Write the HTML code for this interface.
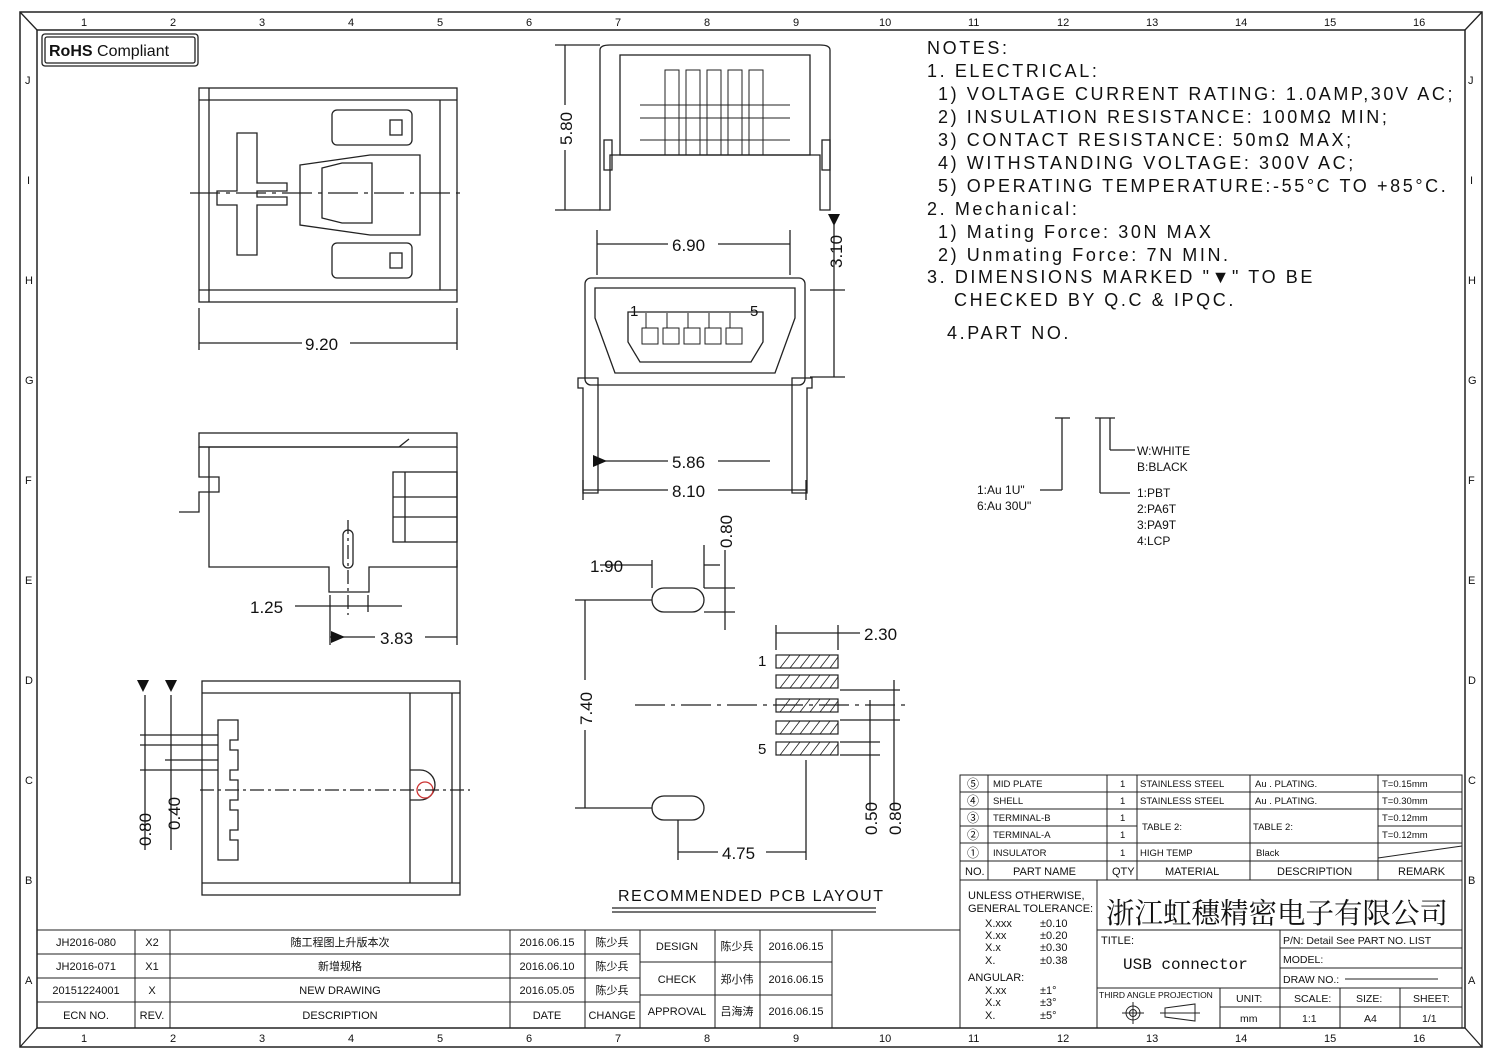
<!DOCTYPE html>
<html><head><meta charset="utf-8"><style>
html,body{margin:0;padding:0;background:#fff}
svg{display:block}
text{font-family:"Liberation Sans","Noto Sans CJK SC",sans-serif;fill:#111}
.n{font-size:18px;letter-spacing:2.6px}
.s{font-size:10px}
.d{font-size:17px}
</style></head><body>
<svg width="1502" height="1059" viewBox="0 0 1502 1059" xmlns="http://www.w3.org/2000/svg" fill="none" stroke="#222" stroke-width="1.3">
<!-- frame -->
<rect x="20" y="12" width="1462" height="1035" stroke-width="1.5"/>
<rect x="37" y="30" width="1428" height="998" stroke-width="1.5"/>
<line x1="20" y1="12" x2="37" y2="30"/><line x1="1482" y1="12" x2="1465" y2="30"/>
<line x1="20" y1="1047" x2="37" y2="1028"/><line x1="1482" y1="1047" x2="1465" y2="1028"/>
<g stroke="none" font-size="11">
<text x="81" y="26">1</text><text x="170" y="26">2</text><text x="259" y="26">3</text><text x="348" y="26">4</text><text x="437" y="26">5</text><text x="526" y="26">6</text><text x="615" y="26">7</text><text x="704" y="26">8</text><text x="793" y="26">9</text><text x="879" y="26">10</text><text x="968" y="26">11</text><text x="1057" y="26">12</text><text x="1146" y="26">13</text><text x="1235" y="26">14</text><text x="1324" y="26">15</text><text x="1413" y="26">16</text>
<text x="81" y="1042">1</text><text x="170" y="1042">2</text><text x="259" y="1042">3</text><text x="348" y="1042">4</text><text x="437" y="1042">5</text><text x="526" y="1042">6</text><text x="615" y="1042">7</text><text x="704" y="1042">8</text><text x="793" y="1042">9</text><text x="879" y="1042">10</text><text x="968" y="1042">11</text><text x="1057" y="1042">12</text><text x="1146" y="1042">13</text><text x="1235" y="1042">14</text><text x="1324" y="1042">15</text><text x="1413" y="1042">16</text>
<text x="25" y="84">J</text><text x="27" y="184">I</text><text x="25" y="284">H</text><text x="25" y="384">G</text><text x="25" y="484">F</text><text x="25" y="584">E</text><text x="25" y="684">D</text><text x="25" y="784">C</text><text x="25" y="884">B</text><text x="25" y="984">A</text>
<text x="1468" y="84">J</text><text x="1470" y="184">I</text><text x="1468" y="284">H</text><text x="1468" y="384">G</text><text x="1468" y="484">F</text><text x="1468" y="584">E</text><text x="1468" y="684">D</text><text x="1468" y="784">C</text><text x="1468" y="884">B</text><text x="1468" y="984">A</text>
</g>
<!-- RoHS -->
<rect x="42" y="34" width="156" height="32" rx="3"/><rect x="45" y="37" width="150" height="26" rx="2"/>
<text x="49" y="56" stroke="none" font-size="16"><tspan font-weight="bold">RoHS</tspan> Compliant</text>

<!-- View 1 top-left -->
<rect x="199" y="88" width="258" height="214"/>
<line x1="209" y1="88" x2="209" y2="302"/><line x1="199" y1="100" x2="457" y2="100"/><line x1="199" y1="290" x2="457" y2="290"/>
<line x1="440" y1="100" x2="440" y2="290"/>
<path d="M237 133 h20 v50 h30 v8 h-30 v6 h30 v8 h-30 v50 h-20 v-50 h-20 v-14 h20 z"/>
<path d="M300 165 l70 -10 h50 v80 h-50 l-70 -10 z"/><path d="M322 168 l20 -5 h30 v60 h-30 l-20 -5 z"/>
<rect x="332" y="110" width="80" height="35" rx="5"/><rect x="332" y="243" width="80" height="35" rx="5"/>
<rect x="390" y="120" width="12" height="15"/><rect x="390" y="253" width="12" height="15"/>
<line x1="190" y1="193" x2="465" y2="193" stroke-dasharray="30 6 4 6"/>
<line x1="199" y1="308" x2="199" y2="350"/><line x1="457" y1="308" x2="457" y2="350"/>
<line x1="199" y1="343" x2="302" y2="343"/><line x1="350" y1="343" x2="457" y2="343"/>
<text x="305" y="350" class="d" stroke="none">9.20</text>

<!-- View 2 top middle -->
<path d="M600 50 q0 -5 10 -5 h210 q10 0 10 5 v160 h-10 v-55 h-210 v55 h-10 z"/>
<rect x="620" y="55" width="190" height="100"/>
<g stroke-width="1">
<rect x="665" y="70" width="14" height="85"/><rect x="686" y="70" width="14" height="85"/><rect x="707" y="70" width="14" height="85"/><rect x="728" y="70" width="14" height="85"/><rect x="749" y="70" width="14" height="85"/>
<line x1="640" y1="105" x2="790" y2="105"/><line x1="640" y1="118" x2="790" y2="118"/>
<line x1="640" y1="140" x2="790" y2="140"/>
</g>
<rect x="604" y="140" width="8" height="30"/><rect x="822" y="140" width="8" height="30"/>
<line x1="555" y1="45" x2="600" y2="45"/><line x1="555" y1="210" x2="600" y2="210"/>
<line x1="565" y1="45" x2="565" y2="105"/><line x1="565" y1="150" x2="565" y2="210"/>
<text x="572" y="145" class="d" stroke="none" transform="rotate(-90 572 145)">5.80</text>

<!-- View 3 front -->
<rect x="585" y="278" width="220" height="107" rx="6"/>
<path d="M595 288 h200 v30 l-20 55 h-160 l-20 -55 z"/>
<path d="M628 312 h135 v30 l-12 20 h-111 l-12 -20 z"/>
<g stroke-width="1"><rect x="642" y="328" width="16" height="16"/><rect x="663" y="328" width="16" height="16"/><rect x="684" y="328" width="16" height="16"/><rect x="705" y="328" width="16" height="16"/><rect x="726" y="328" width="16" height="16"/>
<line x1="646" y1="313" x2="646" y2="328"/><line x1="667" y1="313" x2="667" y2="328"/><line x1="688" y1="313" x2="688" y2="328"/><line x1="709" y1="313" x2="709" y2="328"/><line x1="730" y1="313" x2="730" y2="328"/></g>
<text x="630" y="316" stroke="none" font-size="15">1</text><text x="750" y="316" stroke="none" font-size="15">5</text>
<path d="M578 378 h20 v115 h-15 v-105 h-5 z"/><path d="M812 378 h-20 v115 h15 v-105 h5 z"/>
<line x1="597" y1="230" x2="597" y2="275"/><line x1="790" y1="230" x2="790" y2="275"/>
<line x1="597" y1="244" x2="668" y2="244"/><line x1="718" y1="244" x2="790" y2="244"/>
<text x="672" y="251" class="d" stroke="none">6.90</text>
<line x1="810" y1="290" x2="845" y2="290"/><line x1="810" y1="377" x2="845" y2="377"/>
<line x1="834" y1="225" x2="834" y2="377"/>
<text x="842" y="268" class="d" stroke="none" transform="rotate(-90 842 268)">3.10</text>
<path d="M828 214 h12 l-6 12 z" fill="#111" stroke="none"/>
<line x1="595" y1="461" x2="668" y2="461"/><line x1="718" y1="461" x2="770" y2="461"/>
<text x="672" y="468" class="d" stroke="none">5.86</text>
<path d="M593 455 l14 6 l-14 6 z" fill="#111" stroke="none"/>
<line x1="583" y1="490" x2="668" y2="490"/><line x1="718" y1="490" x2="806" y2="490"/>
<line x1="583" y1="480" x2="583" y2="500"/><line x1="806" y1="480" x2="806" y2="500"/>
<text x="672" y="497" class="d" stroke="none">8.10</text>

<!-- View 4 side -->
<rect x="199" y="433" width="258" height="14"/>
<path d="M199 447 h200 l10 -8 M199 447 v30 h20 v15 h-20 v20 h-20" />
<path d="M209 447 v120 h120 v25 h40 v-25 h88 v-120"/>
<rect x="393" y="472" width="64" height="70"/>
<line x1="405" y1="472" x2="405" y2="542"/><line x1="393" y1="497" x2="457" y2="497"/><line x1="393" y1="517" x2="457" y2="517"/>
<rect x="343" y="530" width="10" height="38" rx="5"/>
<line x1="348" y1="520" x2="348" y2="615" stroke-dasharray="14 4 3 4"/>
<line x1="330" y1="595" x2="330" y2="645"/><line x1="368" y1="595" x2="368" y2="612"/><line x1="457" y1="560" x2="457" y2="645"/>
<line x1="295" y1="606" x2="402" y2="606"/>
<text x="250" y="613" class="d" stroke="none">1.25</text>
<line x1="330" y1="637" x2="375" y2="637"/><line x1="425" y1="637" x2="457" y2="637"/>
<path d="M331 631 l14 6 l-14 6 z" fill="#111" stroke="none"/>
<text x="380" y="644" class="d" stroke="none">3.83</text>

<!-- View 5 bottom-left -->
<rect x="202" y="681" width="258" height="214"/>
<line x1="202" y1="693" x2="460" y2="693"/><line x1="202" y1="883" x2="460" y2="883"/>
<line x1="410" y1="693" x2="410" y2="883"/><line x1="452" y1="693" x2="452" y2="883"/>
<path d="M218 720 h20 v20 h-8 v10 h8 v20 h-8 v10 h8 v20 h-8 v10 h8 v20 h-8 v10 h8 v20 h-20 z"/>
<path d="M410 770 h10 a8 8 0 0 1 0 30 h-10"/><circle cx="425" cy="790" r="8" stroke="#c33"/>
<line x1="200" y1="790" x2="470" y2="790" stroke-dasharray="14 4 3 4"/>
<line x1="140" y1="735" x2="218" y2="735"/><line x1="140" y1="745" x2="218" y2="745"/><line x1="165" y1="760" x2="218" y2="760"/><line x1="140" y1="770" x2="218" y2="770"/>
<line x1="145" y1="695" x2="145" y2="850"/><line x1="171" y1="695" x2="171" y2="850"/>
<path d="M137 680 h12 l-6 12 z M165 680 h12 l-6 12 z" fill="#111" stroke="none"/>
<text x="151" y="846" class="d" stroke="none" transform="rotate(-90 151 846)">0.80</text>
<text x="180" y="830" class="d" stroke="none" transform="rotate(-90 180 830)">0.40</text>

<!-- PCB layout -->
<rect x="652" y="588" width="52" height="24" rx="12"/><rect x="652" y="796" width="52" height="24" rx="12"/>
<line x1="652" y1="560" x2="652" y2="588"/><line x1="704" y1="545" x2="704" y2="588"/>
<line x1="600" y1="565" x2="652" y2="565"/><line x1="704" y1="565" x2="720" y2="565"/>
<text x="590" y="572" class="d" stroke="none">1.90</text>
<line x1="704" y1="588" x2="735" y2="588"/><line x1="704" y1="612" x2="735" y2="612"/>
<line x1="725" y1="550" x2="725" y2="630"/>
<text x="732" y="548" class="d" stroke="none" transform="rotate(-90 732 548)">0.80</text>
<line x1="575" y1="600" x2="652" y2="600"/><line x1="575" y1="808" x2="652" y2="808"/>
<line x1="585" y1="600" x2="585" y2="680"/><line x1="585" y1="730" x2="585" y2="808"/>
<text x="592" y="725" class="d" stroke="none" transform="rotate(-90 592 725)">7.40</text>
<line x1="635" y1="705" x2="910" y2="705" stroke-dasharray="30 6 4 6"/>
<g stroke-width="1.2">
<rect x="776" y="655" width="62" height="13"/><rect x="776" y="675" width="62" height="13"/><rect x="776" y="699" width="62" height="13"/><rect x="776" y="721" width="62" height="13"/><rect x="776" y="742" width="62" height="13"/>
</g>
<g stroke-width="0.8">
<path d="M780 668 l10 -13 M790 668 l10 -13 M800 668 l10 -13 M810 668 l10 -13 M820 668 l10 -13 M830 668 l8 -11 M780 688 l10 -13 M790 688 l10 -13 M800 688 l10 -13 M810 688 l10 -13 M820 688 l10 -13 M830 688 l8 -11 M780 712 l10 -13 M790 712 l10 -13 M800 712 l10 -13 M810 712 l10 -13 M820 712 l10 -13 M830 712 l8 -11 M780 734 l10 -13 M790 734 l10 -13 M800 734 l10 -13 M810 734 l10 -13 M820 734 l10 -13 M830 734 l8 -11 M780 755 l10 -13 M790 755 l10 -13 M800 755 l10 -13 M810 755 l10 -13 M820 755 l10 -13 M830 755 l8 -11"/>
</g>
<text x="758" y="666" stroke="none" font-size="15">1</text><text x="758" y="754" stroke="none" font-size="15">5</text>
<line x1="776" y1="625" x2="776" y2="650"/><line x1="838" y1="625" x2="838" y2="650"/>
<line x1="776" y1="633" x2="860" y2="633"/><text x="864" y="640" class="d" stroke="none">2.30</text>
<line x1="840" y1="690" x2="900" y2="690"/><line x1="840" y1="720" x2="900" y2="720"/><line x1="840" y1="742" x2="880" y2="742"/><line x1="840" y1="755" x2="880" y2="755"/>
<line x1="870" y1="700" x2="870" y2="810"/><line x1="894" y1="680" x2="894" y2="810"/>
<text x="877" y="835" class="d" stroke="none" transform="rotate(-90 877 835)">0.50</text>
<text x="901" y="835" class="d" stroke="none" transform="rotate(-90 901 835)">0.80</text>
<line x1="678" y1="820" x2="678" y2="860"/><line x1="806" y1="760" x2="806" y2="860"/>
<line x1="678" y1="852" x2="718" y2="852"/><line x1="766" y1="852" x2="806" y2="852"/>
<text x="722" y="859" class="d" stroke="none">4.75</text>
<text x="618" y="901" stroke="none" font-size="16" letter-spacing="1.5">RECOMMENDED PCB LAYOUT</text>
<line x1="612" y1="908" x2="876" y2="908"/><line x1="612" y1="912" x2="876" y2="912"/>

<!-- Notes -->
<g stroke="none">
<text x="927" y="54" class="n">NOTES:</text>
<text x="927" y="77" class="n">1. ELECTRICAL:</text>
<text x="938" y="100" class="n">1) VOLTAGE CURRENT RATING: 1.0AMP,30V AC;</text>
<text x="938" y="123" class="n">2) INSULATION RESISTANCE: 100MΩ MIN;</text>
<text x="938" y="146" class="n">3) CONTACT RESISTANCE: 50mΩ MAX;</text>
<text x="938" y="169" class="n">4) WITHSTANDING VOLTAGE: 300V AC;</text>
<text x="938" y="192" class="n">5) OPERATING TEMPERATURE:-55°C TO +85°C.</text>
<text x="927" y="215" class="n">2. Mechanical:</text>
<text x="938" y="238" class="n">1) Mating Force: 30N MAX</text>
<text x="938" y="261" class="n">2) Unmating Force: 7N MIN.</text>
<text x="927" y="283" class="n">3. DIMENSIONS MARKED "▼" TO BE</text>
<text x="954" y="306" class="n">CHECKED BY Q.C &amp; IPQC.</text>
<text x="947" y="339" class="n">4.PART NO.</text>
</g>
<!-- part no code -->
<line x1="1055" y1="418" x2="1070" y2="418"/><line x1="1062" y1="418" x2="1062" y2="490"/><line x1="1062" y1="490" x2="1040" y2="490"/>
<line x1="1095" y1="418" x2="1115" y2="418"/><line x1="1100" y1="418" x2="1100" y2="493"/><line x1="1100" y1="493" x2="1130" y2="493"/>
<line x1="1110" y1="418" x2="1110" y2="450"/><line x1="1110" y1="450" x2="1135" y2="450"/>
<g stroke="none" font-size="12">
<text x="1137" y="455">W:WHITE</text><text x="1137" y="471">B:BLACK</text>
<text x="977" y="494">1:Au 1U"</text><text x="977" y="510">6:Au 30U"</text>
<text x="1137" y="497">1:PBT</text><text x="1137" y="513">2:PA6T</text><text x="1137" y="529">3:PA9T</text><text x="1137" y="545">4:LCP</text>
</g>

<!-- revision table -->
<g stroke-width="1">
<line x1="37" y1="930" x2="960" y2="930"/>
<line x1="37" y1="954" x2="640" y2="954"/><line x1="37" y1="978" x2="640" y2="978"/><line x1="37" y1="1002" x2="640" y2="1002"/>
<line x1="640" y1="962" x2="832" y2="962"/><line x1="640" y1="995" x2="832" y2="995"/>
<line x1="135" y1="930" x2="135" y2="1028"/><line x1="170" y1="930" x2="170" y2="1028"/><line x1="510" y1="930" x2="510" y2="1028"/><line x1="585" y1="930" x2="585" y2="1028"/><line x1="640" y1="930" x2="640" y2="1028"/><line x1="715" y1="930" x2="715" y2="1028"/><line x1="760" y1="930" x2="760" y2="1028"/><line x1="832" y1="930" x2="832" y2="1028"/>
</g>
<g stroke="none" font-size="11" text-anchor="middle">
<text x="86" y="946">JH2016-080</text><text x="152" y="946">X2</text><text x="340" y="946">随工程图上升版本次</text><text x="547" y="946">2016.06.15</text><text x="612" y="946">陈少兵</text>
<text x="86" y="970">JH2016-071</text><text x="152" y="970">X1</text><text x="340" y="970">新增规格</text><text x="547" y="970">2016.06.10</text><text x="612" y="970">陈少兵</text>
<text x="86" y="994">20151224001</text><text x="152" y="994">X</text><text x="340" y="994">NEW DRAWING</text><text x="547" y="994">2016.05.05</text><text x="612" y="994">陈少兵</text>
<text x="86" y="1019">ECN NO.</text><text x="152" y="1019">REV.</text><text x="340" y="1019">DESCRIPTION</text><text x="547" y="1019">DATE</text><text x="612" y="1019">CHANGE</text>
<text x="677" y="950">DESIGN</text><text x="737" y="950">陈少兵</text><text x="796" y="950">2016.06.15</text>
<text x="677" y="983">CHECK</text><text x="737" y="983">郑小伟</text><text x="796" y="983">2016.06.15</text>
<text x="677" y="1015">APPROVAL</text><text x="737" y="1015">吕海涛</text><text x="796" y="1015">2016.06.15</text>
</g>

<!-- parts table -->
<g stroke-width="1">
<rect x="960" y="775" width="502" height="253"/>
<line x1="960" y1="792" x2="1462" y2="792"/><line x1="960" y1="809" x2="1462" y2="809"/><line x1="960" y1="826" x2="1137" y2="826"/><line x1="1378" y1="826" x2="1462" y2="826"/><line x1="960" y1="843" x2="1462" y2="843"/><line x1="960" y1="861" x2="1462" y2="861"/><line x1="960" y1="880" x2="1462" y2="880"/>
<line x1="988" y1="775" x2="988" y2="880"/><line x1="1107" y1="775" x2="1107" y2="880"/><line x1="1137" y1="775" x2="1137" y2="880"/><line x1="1250" y1="775" x2="1250" y2="880"/><line x1="1378" y1="775" x2="1378" y2="880"/>
<line x1="1378" y1="858" x2="1462" y2="846"/>
<line x1="1097" y1="880" x2="1097" y2="1028"/><line x1="1097" y1="930" x2="1462" y2="930"/>
<line x1="1280" y1="930" x2="1280" y2="1028"/><line x1="1280" y1="948" x2="1462" y2="948"/><line x1="1280" y1="968" x2="1462" y2="968"/><line x1="1097" y1="988" x2="1462" y2="988"/>
<line x1="1220" y1="988" x2="1220" y2="1028"/><line x1="1220" y1="1007" x2="1462" y2="1007"/><line x1="1340" y1="988" x2="1340" y2="1028"/><line x1="1400" y1="988" x2="1400" y2="1028"/>
<line x1="1345" y1="979" x2="1438" y2="979"/>
<circle cx="1133" cy="1013" r="7"/><circle cx="1133" cy="1013" r="3.5"/><line x1="1122" y1="1013" x2="1144" y2="1013"/><line x1="1133" y1="1002" x2="1133" y2="1024"/>
<path d="M1165 1008 l30 -4 v17 l-30 -4 z"/><line x1="1160" y1="1013" x2="1200" y2="1013"/>
</g>
<g stroke="none" font-size="9.5">
<text x="967" y="788" font-size="12">⑤</text><text x="967" y="805" font-size="12">④</text><text x="967" y="822" font-size="12">③</text><text x="967" y="839" font-size="12">②</text><text x="967" y="857" font-size="12">①</text>
<text x="993" y="787">MID PLATE</text><text x="993" y="804">SHELL</text><text x="993" y="821">TERMINAL-B</text><text x="993" y="838">TERMINAL-A</text><text x="993" y="856">INSULATOR</text>
<text x="1120" y="787">1</text><text x="1120" y="804">1</text><text x="1120" y="821">1</text><text x="1120" y="838">1</text><text x="1120" y="856">1</text>
<text x="1140" y="787">STAINLESS STEEL</text><text x="1140" y="804">STAINLESS STEEL</text><text x="1142" y="830">TABLE 2:</text><text x="1140" y="856">HIGH TEMP</text>
<text x="1255" y="787">Au . PLATING.</text><text x="1255" y="804">Au . PLATING.</text><text x="1253" y="830">TABLE 2:</text><text x="1256" y="856">Black</text>
<text x="1382" y="787">T=0.15mm</text><text x="1382" y="804">T=0.30mm</text><text x="1382" y="821">T=0.12mm</text><text x="1382" y="838">T=0.12mm</text>
<g font-size="11"><text x="965" y="875">NO.</text><text x="1013" y="875">PART NAME</text><text x="1112" y="875">QTY</text><text x="1165" y="875">MATERIAL</text><text x="1277" y="875">DESCRIPTION</text><text x="1398" y="875">REMARK</text></g>
<g font-size="11"><text x="968" y="899">UNLESS OTHERWISE,</text><text x="968" y="912">GENERAL TOLERANCE:</text>
<text x="985" y="927">X.xxx</text><text x="1040" y="927">±0.10</text><text x="985" y="939">X.xx</text><text x="1040" y="939">±0.20</text><text x="985" y="951">X.x</text><text x="1040" y="951">±0.30</text><text x="985" y="964">X.</text><text x="1040" y="964">±0.38</text>
<text x="968" y="981">ANGULAR:</text>
<text x="985" y="994">X.xx</text><text x="1040" y="994">±1°</text><text x="985" y="1006">X.x</text><text x="1040" y="1006">±3°</text><text x="985" y="1019">X.</text><text x="1040" y="1019">±5°</text></g>
<text x="1106" y="923" style="font-size:28.5px;font-family:'Noto Serif CJK SC','Noto Sans CJK SC',serif">浙江虹穗精密电子有限公司</text>
<text x="1101" y="944" font-size="11">TITLE:</text>
<text x="1123" y="969" style="font-size:16px;font-family:'Liberation Mono',monospace">USB connector</text>
<g font-size="10.5"><text x="1283" y="944">P/N: Detail See PART NO. LIST</text><text x="1283" y="963">MODEL:</text><text x="1283" y="983">DRAW NO.:</text>
<text x="1099" y="998" font-size="8.5">THIRD ANGLE PROJECTION</text>
<text x="1236" y="1002">UNIT:</text><text x="1240" y="1022">mm</text>
<text x="1294" y="1002">SCALE:</text><text x="1302" y="1022">1:1</text><text x="1356" y="1002">SIZE:</text><text x="1364" y="1022">A4</text><text x="1413" y="1002">SHEET:</text><text x="1422" y="1022">1/1</text></g>
</g>
</svg>
</body></html>
